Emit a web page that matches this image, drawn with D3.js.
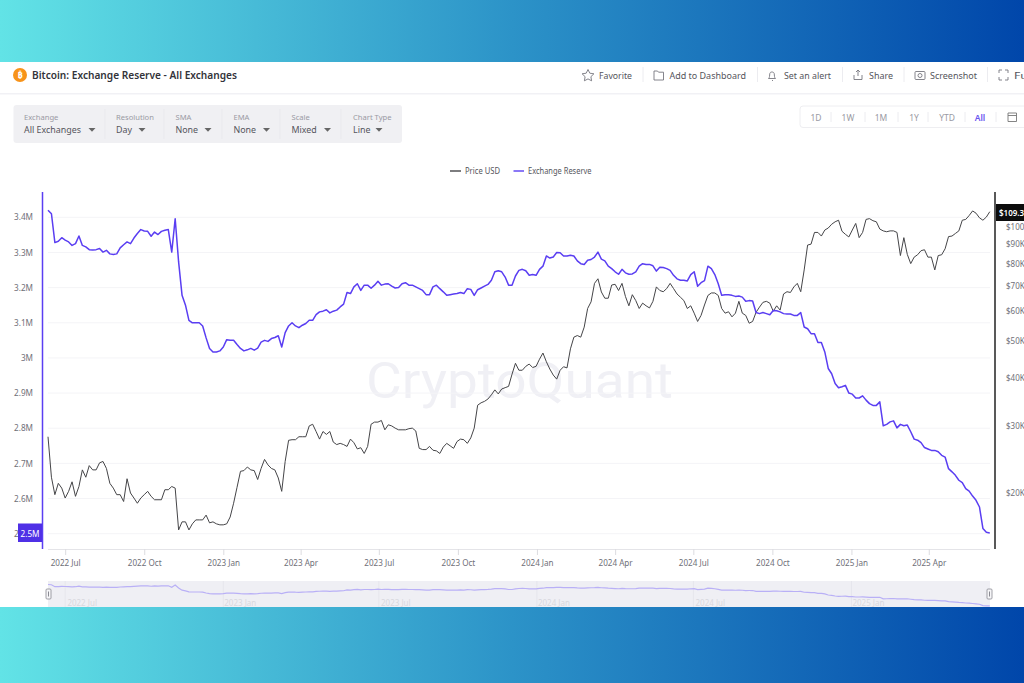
<!DOCTYPE html>
<html><head><meta charset="utf-8">
<script src="https://cdn.jsdelivr.net/npm/d3@7"></script>
<style>html,body{margin:0;padding:0;background:#fff;overflow:hidden}svg{display:block}text{font-family:"Noto Sans",sans-serif}</style>
</head><body><svg id="c" width="1024" height="683"></svg>
<script>
// sampled every four days from this date
const firstDay = "2022-06-11";
const sampleStepDays = 4;
// Price USD, thousands
const priceK = [
28.1,22,19.8,21.2,20.6,19.4,20.2,21.4,19.6,20.8,23,22,23.6,23,23,24,24.2,23.2,21.2,20.6,19.8,19.8,19,21.8,20,19.4,18.8,19.4,19.8,20.2,19.6,19.2,19.2,19.2,20.4,20.4,20.8,20.6,16,16.8,16.8,16,16.6,17,17,17,17.5,16.7,16.8,16.6,16.5,16.5,16.6,17.3,18.8,20.7,
22.8,22.9,23.4,23,22.9,21.7,23.2,24.5,23.7,23.2,23,21.9,20.2,24.2,27.5,27.6,27.6,28.1,28.1,28.1,30,30.3,29,27.7,29,28.5,29,27.2,26.8,27,26.8,26.5,27.7,27.1,26.1,26.3,25.4,26.5,30.3,30.7,30.7,31,29.3,30.2,30,29.6,29.3,29.3,29.3,29.5,29.6,29.1,26.2,26,26,
26.5,25.9,25.8,25.4,26.4,27,26.6,26.2,27.3,27.7,27.6,27,27.9,29.6,34,34.5,34.8,35.3,36.2,37.3,36.4,37.5,37.8,38.1,41,43.8,42,42,43,43.6,42.7,43,44.9,46.6,44.2,42.3,40.8,39.8,42,42.9,42.6,47.8,51.3,51.8,51.3,54.5,61,63.5,71,73,67.4,64.9,64.9,70.3,70.6,68,
71,65.6,62,66.3,64,61,63,62,61.2,63.7,69.5,68,67.5,68.8,71,68.8,66.6,65.3,64,61,62,59.3,56.4,58.5,62.3,66,67,67,66,61,59.3,59.8,58,59.3,63.7,59.3,58.5,55.8,56.4,59.6,61.5,63.3,63.7,63,60,62,60.4,66.6,67.5,67.2,69.5,71,67.5,77,89.5,
90,96.6,96.6,94.5,98,99.2,101.5,103,104,97.3,95.5,94,98,102,93.6,96.6,104.5,105,103.7,103,98.6,97.5,97,97.5,97.5,96.6,84,93.6,84.6,80,83.2,84.4,86.5,87,83.2,83.2,77,84,84.4,87.5,94.2,94.5,96,97.5,104,104.5,107,110,108.5,105.5,104,106,109.5];
// Exchange Reserve, thousands of BTC
const reserveK = [
3420,3410,3328,3332,3342,3335,3330,3320,3325,3347,3320,3316,3308,3307,3308,3311,3301,3306,3296,3294,3296,3313,3322,3330,3325,3341,3354,3365,3361,3360,3346,3358,3351,3360,3363,3365,3301,3396,3273,3178,3150,3107,3100,3100,3100,3091,3057,3027,3017,3017,3020,3031,3052,3050,3050,3038,
3027,3020,3023,3027,3022,3028,3045,3050,3047,3055,3058,3063,3031,3072,3091,3100,3091,3086,3093,3098,3107,3107,3123,3131,3133,3137,3128,3133,3136,3145,3153,3186,3183,3202,3211,3192,3207,3207,3198,3207,3218,3207,3210,3211,3204,3199,3200,3211,3214,3207,3207,3202,3197,3192,3180,
3180,3202,3207,3197,3188,3178,3180,3182,3183,3186,3183,3197,3195,3178,3194,3199,3204,3209,3221,3245,3248,3245,3230,3207,3207,3233,3249,3252,3248,3235,3237,3235,3252,3261,3290,3284,3287,3300,3299,3290,3290,3292,3290,3276,3268,3266,3278,3280,3287,3301,3281,3276,3261,3254,3245,3238,
3252,3242,3238,3239,3245,3261,3268,3266,3266,3262,3247,3258,3257,3254,3249,3235,3225,3221,3221,3219,3237,3245,3204,3214,3220,3261,3254,3237,3211,3178,3180,3180,3178,3175,3176,3173,3161,3163,3162,3129,3126,3129,3126,3123,3135,3134,3131,3126,3125,3125,3121,3121,3129,3088,3083,
3069,3069,3044,3044,3017,2970,2955,2927,2915,2918,2922,2900,2897,2886,2886,2892,2880,2870,2865,2865,2875,2807,2811,2818,2821,2801,2811,2807,2809,2790,2769,2766,2759,2745,2741,2737,2737,2733,2723,2718,2685,2676,2666,2652,2645,2628,2621,2607,2595,2576,2515,2504,2502];
const reserveTicks = [2500,2600,2700,2800,2900,3000,3100,3200,3300,3400];
const priceTicks = [20,30,40,50,60,70,80,90,100];
const lastPriceLabel = "$109.3K";
const reserveTagLabel = "2.5M";
const titleText = "Bitcoin: Exchange Reserve - All Exchanges";
const seriesNames = ["Price USD","Exchange Reserve"];
const toolbarNames = ["Favorite","Add to Dashboard","Set an alert","Share","Screenshot","Full"];
const filterNames = ["Exchange","Resolution","SMA","EMA","Scale","Chart Type"];
const filterValues = ["All Exchanges","Day","None","None","Mixed","Line"];
const rangeNames = ["1D","1W","1M","1Y","YTD","All"];
const navigatorLabels = ["2022-07-01","2023-01-01","2023-07-01","2024-01-01","2024-07-01","2025-01-01"];

const BLUE="#5a3ef2", INK="#454548", GREY="#6f6f78";
const svg=d3.select("#c");
const defs=svg.append("defs");
const g=defs.append("linearGradient").attr("id","band");
[[0,"#62e3e6"],[.5,"#2c93c8"],[1,"#0046aa"]].forEach(s=>g.append("stop").attr("offset",s[0]).attr("stop-color",s[1]));

svg.append("rect").attr("width",1024).attr("height",683).attr("fill","#fff");

// header
const ui=svg.append("g");
ui.append("rect").attr("x",0).attr("y",93).attr("width",1024).attr("height",1.5).attr("fill","#f1f1f5");
ui.append("circle").attr("cx",20).attr("cy",75).attr("r",7).attr("fill","#f7931a");
ui.append("text").attr("x",20).attr("y",78).attr("text-anchor","middle").attr("font-size",9).attr("font-weight",700).attr("fill","#fff").text("₿");
ui.append("text").attr("x",32).attr("y",79).attr("font-size",11).attr("font-weight",600).attr("fill","#33333a").attr("textLength",205).attr("lengthAdjust","spacingAndGlyphs").text(titleText);

const toolX=[599,669.5,784,869,930,1014], toolW=[33,76.5,47,24,47,20];
toolbarNames.forEach((t,i)=>ui.append("text").attr("x",toolX[i]).attr("y",79).attr("font-size",9.5).attr("fill","#55555c").attr("textLength",toolW[i]).attr("lengthAdjust","spacingAndGlyphs").text(t));
[643,757.5,842.5,904,987.5].forEach(x=>ui.append("line").attr("x1",x).attr("x2",x).attr("y1",67).attr("y2",82).attr("stroke","#ececf0"));
const icon=ui.append("g").attr("fill","none").attr("stroke","#77777f").attr("stroke-width",.9);
icon.append("path").attr("d","M588 69.5l1.8 3.7 4.1.6-3 2.9.7 4.1-3.6-1.9-3.6 1.9.7-4.1-3-2.9 4.1-.6z");
icon.append("path").attr("d","M654 71h3.5l1 1.2h5v7.8h-9.500z");
icon.append("path").attr("d","M768.500 78.500c1.300-1 1-3 1.300-5 .3-2 4-2 4.400 0 .3 2 0 4 1.300 5z M772 80.500h1");
icon.append("path").attr("d","M854 75v4.500h8V75 M858 76V70 M856 72l2-2 2 2");
icon.append("rect").attr("x",915).attr("y",71.500).attr("width",10).attr("height",8).attr("rx",1);
icon.append("circle").attr("cx",920).attr("cy",75.500).attr("r",2);
icon.append("path").attr("d","M999 73v-3h3 M1005 70h3v3 M1008 77v3h-3 M1002 80h-3v-3");

// filter panel
ui.append("rect").attr("x",13.500).attr("y",105).attr("width",388.500).attr("height",38).attr("rx",3).attr("fill","#f0f0f3");
const fx=[24,116,175.500,233.500,291.500,353], cx=[92,142,208,266.500,327.500,379];
filterNames.forEach((t,i)=>{
  ui.append("text").attr("x",fx[i]).attr("y",119.500).attr("font-size",7.600).attr("fill","#9a9aa3").text(t);
  ui.append("text").attr("x",fx[i]).attr("y",133).attr("font-size",8.900).attr("fill","#55555c").text(filterValues[i]);
  ui.append("path").attr("d",`M${cx[i]-3.500} 128h7l-3.500 3.800z`).attr("fill","#666");
});
[105,164,222,280,341].forEach(x=>ui.append("line").attr("x1",x).attr("x2",x).attr("y1",109).attr("y2",139).attr("stroke","#e9e9ed"));

// range buttons
ui.append("rect").attr("x",800).attr("y",106).attr("width",240).attr("height",21.500).attr("rx",3).attr("fill","#fff").attr("stroke","#eeeef1");
const rx=[816,848,881,914,947,980];
rangeNames.forEach((t,i)=>ui.append("text").attr("x",rx[i]).attr("y",120.500).attr("text-anchor","middle").attr("font-size",8.500).attr("fill",t==="All"?"#6a55f0":"#9a9aa3").attr("font-weight",t==="All"?600:400).text(t));
[831,865,898,928,965,996].forEach(x=>ui.append("line").attr("x1",x).attr("x2",x).attr("y1",112).attr("y2",122).attr("stroke","#ececf0"));
ui.append("path").attr("d","M1008 113h8.500v8.500h-8.500z M1008 115.500h8.500").attr("fill","none").attr("stroke","#777").attr("stroke-width",.9);

// legend
[[450,461,INK,465,seriesNames[0],35],[513.500,524,BLUE,528,seriesNames[1],63.500]].forEach(l=>{
  svg.append("line").attr("x1",l[0]).attr("x2",l[1]).attr("y1",171).attr("y2",171).attr("stroke",l[2]).attr("stroke-width",1.400);
  svg.append("text").attr("x",l[3]).attr("y",174).attr("font-size",8.500).attr("fill","#55555c").attr("textLength",l[5]).attr("lengthAdjust","spacingAndGlyphs").text(l[4]);
});

// scales
const t0=d3.utcParse("%Y-%m-%d")(firstDay);
const dateAt=i=>d3.utcDay.offset(t0,i*sampleStepDays);
const x=d3.scaleUtc().domain([t0,d3.utcDay.offset(t0,1098)]).range([48,991.5]);
const yR=d3.scaleLinear().domain([2500,3400]).range([533.7,217.3]);
const yP=d3.scaleLog().domain([20,100]).range([493,226.7]);
const yN=d3.scaleLinear().domain([2500,3420]).range([606,584.5]);

// watermark
svg.append("text").attr("x",366).attr("y",398).attr("font-size",50).attr("fill","#f0f0f5").attr("textLength",307).attr("lengthAdjust","spacingAndGlyphs").style("font-family","Roboto,sans-serif").text("CryptoQuant");

// grid
svg.append("g").selectAll("line").data(reserveTicks).join("line").attr("x1",48).attr("x2",990).attr("y1",d=>yR(d)).attr("y2",d=>yR(d)).attr("stroke","#f4f4f7");

// axes
const fmtR=d=>(d/1000)+"M";
const la=svg.append("g").attr("transform","translate(42.5,0)").call(d3.axisLeft(yR).tickValues(reserveTicks).tickFormat(fmtR).tickSize(0).tickPadding(9.5));
la.select(".domain").remove();
la.selectAll("text").attr("font-size",8.200).attr("fill",GREY).attr("font-family",null);
svg.append("line").attr("x1",42.5).attr("x2",42.5).attr("y1",192).attr("y2",549).attr("stroke",BLUE).attr("stroke-width",1.500);

const ra=svg.append("g").attr("transform","translate(995,0)").call(d3.axisRight(yP).tickValues(priceTicks).tickFormat(d=>"$"+d+"K").tickSize(0).tickPadding(11));
ra.select(".domain").remove();
ra.selectAll("text").attr("font-size",8).attr("fill",GREY).attr("font-family",null);
svg.append("line").attr("x1",995).attr("x2",995).attr("y1",192).attr("y2",549).attr("stroke","#222").attr("stroke-width",1.500);

const ba=svg.append("g").attr("transform","translate(0,549)").call(d3.axisBottom(x).ticks(d3.utcMonth.every(3)).tickFormat(d3.utcFormat("%Y %b")).tickSize(6).tickPadding(5));
ba.select(".domain").attr("stroke","#e4e4e8").attr("d","M48,0.5H990");
ba.selectAll("line").attr("stroke","#dcdce0");
ba.selectAll("text").attr("font-size",8.100).attr("fill",GREY).attr("font-family",null);

// series
const lineP=d3.line().x((d,i)=>x(dateAt(i))).y(d=>yP(d)).curve(d3.curveLinear);
const lineR=d3.line().x((d,i)=>x(dateAt(i))).y(d=>yR(d)).curve(d3.curveLinear);
svg.append("path").attr("d",lineP(priceK)).attr("fill","none").attr("stroke",INK).attr("stroke-width",1).attr("stroke-linejoin","round");
svg.append("path").attr("d",lineR(reserveK)).attr("fill","none").attr("stroke",BLUE).attr("stroke-width",1.500).attr("stroke-linejoin","round");

// value tags
svg.append("rect").attr("x",18).attr("y",523.500).attr("width",24).attr("height",18.500).attr("fill","#4f30e6");
svg.append("text").attr("x",30).attr("y",536.500).attr("text-anchor","middle").attr("font-size",8.200).attr("fill","#fff").text(reserveTagLabel);
svg.append("rect").attr("x",996).attr("y",204).attr("width",30).attr("height",17).attr("fill","#0c0c0c");
svg.append("text").attr("x",999).attr("y",216).attr("font-size",8).attr("font-weight",600).attr("fill","#fff").text(lastPriceLabel);

// navigator
const nav=svg.append("g");
nav.append("rect").attr("x",48).attr("y",581).attr("width",942).attr("height",28).attr("fill","#efeff4");
navigatorLabels.forEach(s=>{const d=d3.utcParse("%Y-%m-%d")(s);
  nav.append("line").attr("x1",x(d)).attr("x2",x(d)).attr("y1",581).attr("y2",609).attr("stroke","#e6e6ec");
  nav.append("text").attr("x",x(d)+17).attr("y",606).attr("text-anchor","middle").attr("font-size",8).attr("fill","#d8d8de").text(d3.utcFormat("%Y %b")(d));});
nav.append("path").attr("d",d3.line().x((d,i)=>x(dateAt(i))).y(d=>yN(d))(reserveK)).attr("fill","none").attr("stroke","#b9b0f6").attr("stroke-width",1.200);
[48.5,989.5].forEach(hx=>{
  nav.append("rect").attr("x",hx-2.5).attr("y",589).attr("width",5).attr("height",10).attr("rx",1).attr("fill","#f6f6f8").attr("stroke","#8a8a92").attr("stroke-width",.8);
  nav.append("line").attr("x1",hx).attr("x2",hx).attr("y1",591.5).attr("y2",596.5).attr("stroke","#8a8a92").attr("stroke-width",1);
});

// bands
svg.append("rect").attr("x",0).attr("y",0).attr("width",1024).attr("height",62).attr("fill","url(#band)");
svg.append("rect").attr("x",0).attr("y",607).attr("width",1024).attr("height",76).attr("fill","url(#band)");
</script></body></html>
